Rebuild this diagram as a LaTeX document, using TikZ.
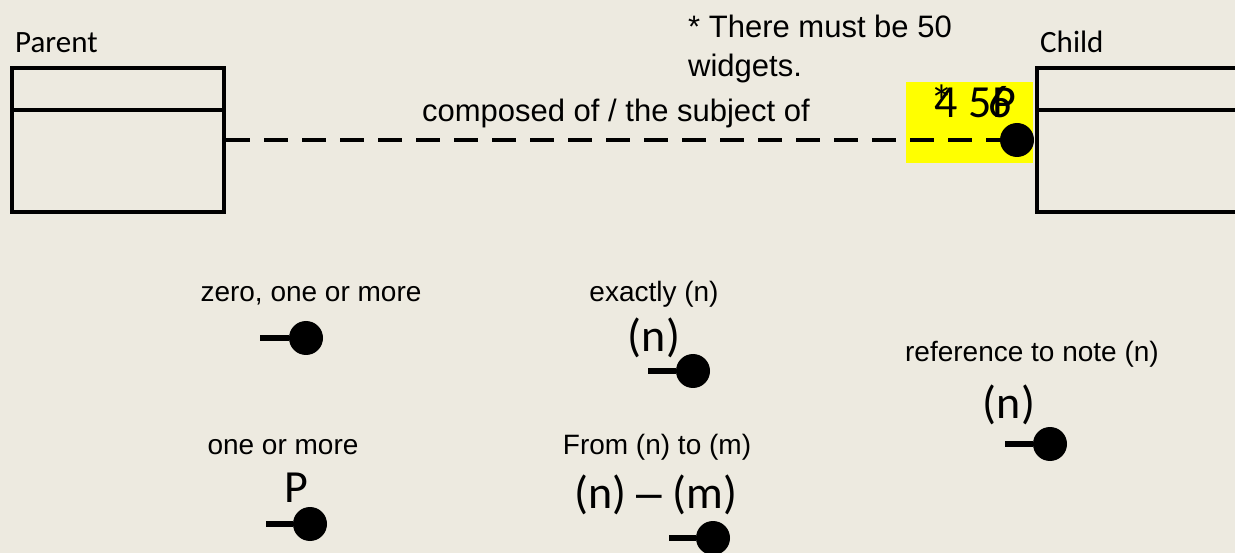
\documentclass[tikz,border=0pt]{standalone}
\usepackage{fontspec}
\setmainfont{Liberation Sans}
\newfontfamily\calfont{Carlito}
\definecolor{bg}{RGB}{237,234,224}
\definecolor{hl}{RGB}{255,255,0}
\begin{document}
\begin{tikzpicture}[x=1pt,y=-1pt,
  box/.style={draw, line width=4pt, minimum width=212pt, minimum height=144pt, inner sep=0pt},
  divider/.style={line width=4pt},
  dot/.style={circle, fill=black, minimum size=34pt, inner sep=0pt},
  stub/.style={line width=5.5pt},
  lbl/.style={font=\fontsize{28}{32}\selectfont, inner sep=0pt, anchor=base},
  big/.style={font=\calfont\fontsize{46}{52}\selectfont, inner sep=0pt, anchor=base},
  title/.style={font=\calfont\fontsize{31}{36}\selectfont, inner sep=0pt, anchor=base west},
  note/.style={font=\fontsize{31}{36}\selectfont, inner sep=0pt, anchor=base west},
  dashline/.style={line width=4pt, dash pattern=on 24pt off 14pt}]
\fill[bg] (0,0) rectangle (1235,553);
\useasboundingbox (0,0) rectangle (1235,553);
% highlight
\fill[hl] (906,82) rectangle (1033,163);
% boxes
\node[box] (parent) at (118,140) {};
\draw[divider] ([yshift=-44pt]parent.north west) -- ([yshift=-44pt]parent.north east);
\node[box] (child) at (1143,140) {};
\draw[divider] ([yshift=-44pt]child.north west) -- ([yshift=-44pt]child.north east);
\node[title] (tparent) at (15,53) {Parent};
\node[title] (tchild) at (1040,53) {Child};
% notes
\node[note] (note1) at (688,38) {* There must be 50};
\node[note] (note2) at (688,77) {widgets.};
\node[lbl, font=\fontsize{31}{36}\selectfont] (rel) at (616,122) {composed of / the subject of};
% overlapping multiplicity marks
\node[big] (ov1) at (942,118) {*};
\node[big] (ov2) at (946,118) {4};
\node[big] (ov3) at (980,118) {5};
\node[big] (ov4) at (1000,118) {6};
\node[big] (ov5) at (1004,118) {P};
% relation line
\node[dot] (d0) at (1017,140) {};
\draw[dashline] (parent.east) -- (d0);
% legend
\node[lbl] (l1) at (311,302) {zero, one or more};
\coordinate (s1) at (260,338);
\node[dot] (c1) at (306,338) {};
\draw[stub] (s1) -- (c1);

\node[lbl] (l2) at (654,302) {exactly (n)};
\node[big] (b2) at (654,352) {(n)};
\coordinate (s2) at (648,371);
\node[dot] (c2) at (693,371) {};
\draw[stub] (s2) -- (c2);

\node[lbl] (l3) at (1032,362) {reference to note (n)};
\node[big] (b3) at (1009,418) {(n)};
\coordinate (s3) at (1005,444);
\node[dot] (c3) at (1050,444) {};
\draw[stub] (s3) -- (c3);

\node[lbl] (l4) at (283,454) {one or more};
\node[big] (b4) at (296,502) {P};
\coordinate (s4) at (266,524);
\node[dot] (c4) at (310,524) {};
\draw[stub] (s4) -- (c4);

\node[lbl] (l5) at (657,454) {From (n) to (m)};
\node[big] (b5) at (656,508) {(n) {\rmfamily –} (m)};
\coordinate (s5) at (669,538);
\node[dot] (c5) at (713,538) {};
\draw[stub] (s5) -- (c5);
\end{tikzpicture}
\end{document}
